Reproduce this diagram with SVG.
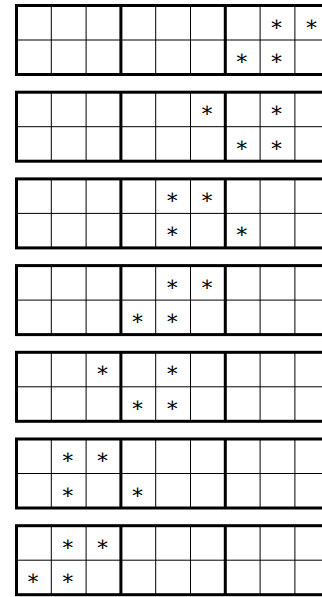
<svg xmlns="http://www.w3.org/2000/svg" xmlns:xlink="http://www.w3.org/1999/xlink" width="322" height="597" viewBox="0 0 322 597">
<style>
.thin{stroke:#000;stroke-width:1;fill:none}
.thick{stroke:#000;stroke-width:3;fill:none}
.s{font-family:"Liberation Serif","DejaVu Serif",serif;font-size:21px;text-anchor:middle;fill:#000}
</style>
<defs>
<g id="grid">
<rect x="0" y="0" width="313.2" height="69" fill="#fff"/>
<path class="thin" d="M34.8 0V69M69.6 0V69M139.2 0V69M174 0V69M243.6 0V69M278.4 0V69M0 34.5H313.2"/>
<path class="thick" d="M104.4 0V69M208.8 0V69"/>
<rect class="thick" x="0" y="0" width="313.2" height="69"/>
</g>
</defs>
<rect width="322" height="597" fill="#fff"/>
<g id="panel1" transform="translate(16.5 5.5)">
<use xlink:href="#grid"/>
<text class="s" x="260" y="25">∗</text><text class="s" x="294.8" y="25">∗</text>
<text class="s" x="225.2" y="59.5">∗</text><text class="s" x="260" y="59.5">∗</text>
</g>
<g id="panel2" transform="translate(16.5 92.2)">
<use xlink:href="#grid"/>
<text class="s" x="190.4" y="25">∗</text><text class="s" x="260" y="25">∗</text>
<text class="s" x="225.2" y="59.5">∗</text><text class="s" x="260" y="59.5">∗</text>
</g>
<g id="panel3" transform="translate(16.5 178.9)">
<use xlink:href="#grid"/>
<text class="s" x="155.6" y="25">∗</text><text class="s" x="190.4" y="25">∗</text>
<text class="s" x="155.6" y="59.5">∗</text><text class="s" x="225.2" y="59.5">∗</text>
</g>
<g id="panel4" transform="translate(16.5 265.6)">
<use xlink:href="#grid"/>
<text class="s" x="155.6" y="25">∗</text><text class="s" x="190.4" y="25">∗</text>
<text class="s" x="120.8" y="59.5">∗</text><text class="s" x="155.6" y="59.5">∗</text>
</g>
<g id="panel5" transform="translate(16.5 352.3)">
<use xlink:href="#grid"/>
<text class="s" x="86" y="25">∗</text><text class="s" x="155.6" y="25">∗</text>
<text class="s" x="120.8" y="59.5">∗</text><text class="s" x="155.6" y="59.5">∗</text>
</g>
<g id="panel6" transform="translate(16.5 439)">
<use xlink:href="#grid"/>
<text class="s" x="51.2" y="25">∗</text><text class="s" x="86" y="25">∗</text>
<text class="s" x="51.2" y="59.5">∗</text><text class="s" x="120.8" y="59.5">∗</text>
</g>
<g id="panel7" transform="translate(16.5 525.7)">
<use xlink:href="#grid"/>
<text class="s" x="51.2" y="25">∗</text><text class="s" x="86" y="25">∗</text>
<text class="s" x="16.4" y="59.5">∗</text><text class="s" x="51.2" y="59.5">∗</text>
</g>
</svg>
